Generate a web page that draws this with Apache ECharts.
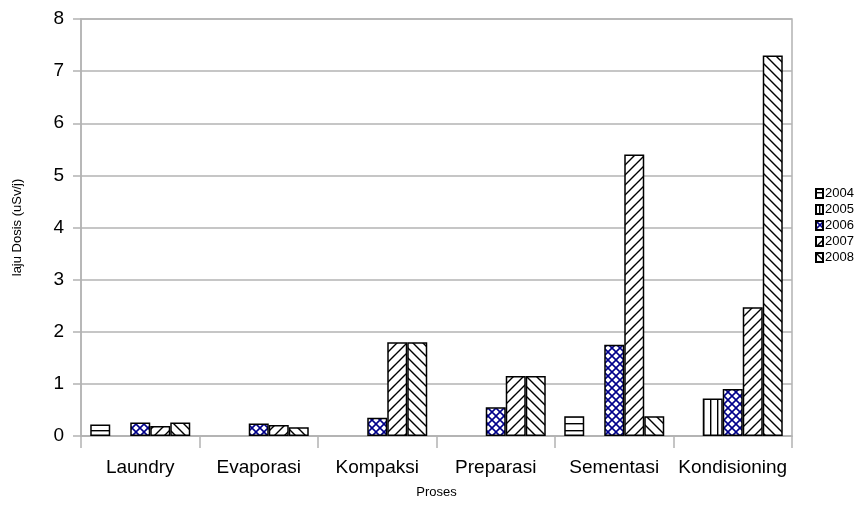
<!DOCTYPE html>
<html>
<head>
<meta charset="utf-8">
<script src="https://cdn.jsdelivr.net/npm/echarts@6/dist/echarts.min.js"></script>
<style>
  html, body { margin: 0; padding: 0; background: #fff; }
  #chart { width: 859px; height: 510px; }
</style>
</head>
<body>
<div id="chart"></div>
<script>
const categories = ['Laundry', 'Evaporasi', 'Kompaksi', 'Preparasi', 'Sementasi', 'Kondisioning']
const years = ['2004', '2005', '2006', '2007', '2008']
const v2004 = [0.22, '-', '-', '-', 0.38, '-']
const v2005 = ['-', '-', '-', '-', '-', 0.72]
const v2006 = [0.26, 0.24, 0.35, 0.55, 1.75, 0.9]
const v2007 = [0.19, 0.21, 1.8, 1.15, 5.4, 2.47]
const v2008 = [0.26, 0.17, 1.8, 1.15, 0.38, 7.3]
const yTicks = [0, 1, 2, 3, 4, 5, 6, 7, 8]

// small canvas tiles used as fill patterns (hatching like the office chart)
function tile(size, draw) {
  const c = document.createElement('canvas')
  c.width = size
  c.height = size
  const ctx = c.getContext('2d')
  ctx.fillStyle = '#fff'
  ctx.fillRect(0, 0, size, size)
  draw(ctx, size)
  return { image: c, repeat: 'repeat' }
}

const patterns = [
  // horizontal lines
  tile(7, (ctx, s) => { ctx.fillStyle = '#000'; ctx.fillRect(0, 3, s, 1.4) }),
  // vertical lines
  tile(7, (ctx, s) => { ctx.fillStyle = '#000'; ctx.fillRect(3, 0, 1.4, s) }),
  // navy cross hatch
  tile(8, (ctx, s) => {
    ctx.strokeStyle = '#00008b'
    ctx.lineWidth = 1.6
    ctx.beginPath()
    ctx.moveTo(-1, -1); ctx.lineTo(s + 1, s + 1)
    ctx.moveTo(-1, s + 1); ctx.lineTo(s + 1, -1)
    ctx.stroke()
  }),
  // forward diagonal /
  tile(10, (ctx, s) => {
    ctx.strokeStyle = '#000'
    ctx.lineWidth = 1.4
    ctx.beginPath()
    ctx.moveTo(-1, s + 1); ctx.lineTo(s + 1, -1)
    ctx.moveTo(-2, 2); ctx.lineTo(2, -2)
    ctx.moveTo(s - 2, s + 2); ctx.lineTo(s + 2, s - 2)
    ctx.stroke()
  }),
  // backward diagonal \
  tile(10, (ctx, s) => {
    ctx.strokeStyle = '#000'
    ctx.lineWidth = 1.4
    ctx.beginPath()
    ctx.moveTo(-1, -1); ctx.lineTo(s + 1, s + 1)
    ctx.moveTo(-2, s - 2); ctx.lineTo(2, s + 2)
    ctx.moveTo(s - 2, -2); ctx.lineTo(s + 2, 2)
    ctx.stroke()
  })
]

const values = [v2004, v2005, v2006, v2007, v2008]
const font = "'Liberation Sans', Arial, sans-serif"
const gray = '#b3b3b3'

const option = {
  animation: false,
  textStyle: { fontFamily: font },
  grid: {
    left: 81,
    right: 67,
    top: 19,
    bottom: 74,
    show: true,
    borderColor: gray,
    borderWidth: 1.5
  },
  legend: {
    data: years,
    orient: 'vertical',
    left: 815,
    top: 187,
    padding: 0,
    itemWidth: 7,
    itemHeight: 9,
    itemGap: 3,
    icon: 'rect',
    textStyle: { fontSize: 13, lineHeight: 13, color: '#000', fontFamily: font, padding: [0, 0, 0, -3] }
  },
  xAxis: {
    type: 'category',
    data: categories,
    name: 'Proses',
    nameLocation: 'middle',
    nameGap: 50,
    nameTextStyle: { fontSize: 13, color: '#000' },
    axisLine: { lineStyle: { color: gray, width: 1.5 } },
    axisTick: { show: true, length: 12, lineStyle: { color: gray, width: 1.5 } },
    axisLabel: { fontSize: 19, color: '#000', margin: 22, interval: 0 },
    splitLine: { show: false }
  },
  yAxis: {
    type: 'value',
    min: yTicks[0],
    max: yTicks[yTicks.length - 1],
    interval: 1,
    name: 'laju Dosis (uSv/j)',
    nameLocation: 'middle',
    nameGap: 57,
    nameTextStyle: { fontSize: 13, color: '#000' },
    axisLine: { show: true, lineStyle: { color: gray, width: 1.5 } },
    axisTick: { show: true, length: 8, lineStyle: { color: gray, width: 1.5 } },
    axisLabel: { fontSize: 19, color: '#000', margin: 17 },
    splitLine: { lineStyle: { color: gray, width: 1.5 } }
  },
  series: years.map((y, i) => ({
    name: y,
    type: 'bar',
    barGap: '0%',
    barCategoryGap: '15.6%',
    data: values[i],
    itemStyle: {
      color: patterns[i],
      borderColor: '#000',
      borderWidth: 1.5
    }
  }))
}

const myChart = echarts.init(document.getElementById('chart'))
myChart.setOption(option)
</script>
</body>
</html>
